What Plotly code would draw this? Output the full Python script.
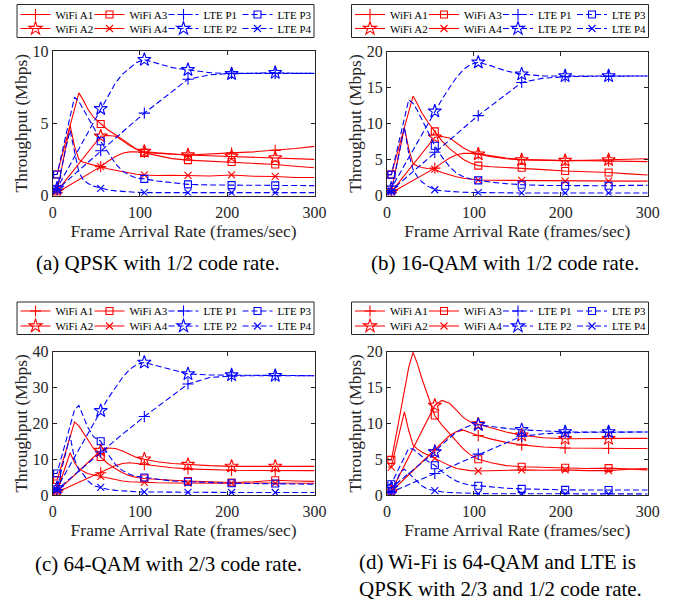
import plotly.graph_objects as go

W, H = 673, 601

# ---------------- data ----------------
X = [1, 5, 10, 15, 20, 25, 30, 35, 40, 47, 55, 63, 72, 80, 88, 96, 105, 120, 137, 155, 180, 205, 230, 255, 278, 300]
MARK_IDX = [1, 10, 16, 19, 21, 23]  # x = 5, 55, 105, 155, 205, 255

SERIES = ["WiFi A1", "WiFi A2", "WiFi A3", "WiFi A4", "LTE P1", "LTE P2", "LTE P3", "LTE P4"]
X_TICKS = [0, 100, 200, 300]

# (a) QPSK 1/2
a_wifi_a1 = [0.2, 0.2, 0.38, 0.56, 0.74, 0.92, 1.1, 1.28, 1.46, 1.71, 2.0, 2.35, 2.7, 2.92, 3.02, 3.02, 2.98, 2.9, 2.85, 2.8, 2.85, 2.95, 3.02, 3.12, 3.25, 3.4]
a_wifi_a2 = [0.3, 0.3, 0.68, 1.06, 1.44, 1.82, 2.2, 2.58, 2.96, 3.49, 4.1, 4.15, 4.1, 3.8, 3.45, 3.2, 3.05, 2.95, 2.88, 2.8, 2.75, 2.7, 2.65, 2.6, 2.55, 2.5]
a_wifi_a3 = [1.45, 1.45, 2.6, 3.7, 4.8, 5.95, 7.1, 6.6, 6.0, 5.4, 4.95, 4.55, 4.2, 3.85, 3.5, 3.2, 2.95, 2.75, 2.55, 2.45, 2.38, 2.32, 2.25, 2.15, 2.02, 1.92]
a_wifi_a4 = [0.3, 0.3, 1.8, 3.3, 4.85, 3.4, 2.5, 2.3, 2.2, 2.1, 2.0, 1.85, 1.75, 1.65, 1.55, 1.47, 1.42, 1.38, 1.4, 1.4, 1.35, 1.42, 1.33, 1.32, 1.25, 1.25]
a_lte_p1 = [0.4, 0.4, 0.67, 0.94, 1.21, 1.48, 1.75, 2.02, 2.29, 2.67, 3.1, 3.52, 3.98, 4.4, 4.82, 5.23, 5.7, 6.4, 7.2, 8.05, 8.35, 8.45, 8.45, 8.45, 8.45, 8.45]
a_lte_p2 = [0.5, 0.5, 1.05, 1.6, 2.15, 2.7, 3.25, 3.8, 4.35, 5.12, 6.0, 6.9, 7.8, 8.4, 8.8, 9.2, 9.4, 9.15, 8.85, 8.7, 8.5, 8.42, 8.45, 8.5, 8.45, 8.45]
a_lte_p3 = [1.45, 1.45, 2.8, 4.2, 5.5, 6.8, 6.5, 6.0, 5.5, 4.7, 3.75, 3.0, 2.2, 1.7, 1.4, 1.2, 1.15, 1.0, 0.88, 0.77, 0.73, 0.72, 0.7, 0.7, 0.68, 0.68]
a_lte_p4 = [0.5, 0.5, 1.8, 3.3, 4.5, 3.0, 1.6, 1.1, 0.85, 0.65, 0.5, 0.4, 0.32, 0.27, 0.24, 0.22, 0.2, 0.2, 0.2, 0.2, 0.2, 0.2, 0.2, 0.2, 0.2, 0.2]

# (b) 16-QAM 1/2
b_wifi_a1 = [0.4, 0.4, 0.74, 1.08, 1.42, 1.76, 2.1, 2.44, 2.78, 3.26, 3.8, 4.5, 5.2, 5.65, 5.85, 5.85, 5.8, 5.5, 5.2, 5.0, 4.9, 4.85, 4.85, 4.8, 4.75, 4.7]
b_wifi_a2 = [0.5, 0.5, 1.26, 2.02, 2.78, 3.54, 4.3, 5.06, 5.82, 6.88, 8.1, 8.2, 8.0, 7.3, 6.6, 6.1, 5.75, 5.4, 5.1, 4.95, 4.85, 4.85, 4.9, 4.95, 5.0, 5.1]
b_wifi_a3 = [2.9, 2.9, 5.1, 7.3, 9.5, 11.7, 13.8, 12.7, 11.5, 10.2, 8.9, 7.6, 6.5, 5.7, 5.0, 4.5, 4.15, 4.0, 3.9, 3.85, 3.6, 3.4, 3.3, 3.2, 3.0, 2.85]
b_wifi_a4 = [0.6, 0.6, 3.6, 6.6, 9.4, 6.5, 4.4, 4.1, 3.9, 3.75, 3.65, 3.2, 2.85, 2.6, 2.4, 2.25, 2.15, 2.12, 2.1, 2.1, 2.05, 2.0, 2.0, 2.0, 2.0, 2.0]
b_lte_p1 = [0.7, 0.7, 1.23, 1.76, 2.29, 2.82, 3.35, 3.88, 4.41, 5.15, 6.0, 6.8, 7.7, 8.55, 9.35, 10.2, 11.1, 12.5, 14.0, 15.7, 16.3, 16.5, 16.55, 16.55, 16.6, 16.6]
b_lte_p2 = [1.0, 1.0, 2.07, 3.14, 4.21, 5.28, 6.35, 7.42, 8.49, 9.99, 11.7, 13.3, 15.0, 16.4, 17.5, 18.2, 18.5, 18.0, 17.3, 16.85, 16.6, 16.6, 16.6, 16.6, 16.6, 16.6]
b_lte_p3 = [2.9, 2.9, 5.5, 8.1, 10.7, 13.3, 12.8, 11.8, 10.6, 8.9, 6.9, 5.4, 4.0, 3.1, 2.6, 2.3, 2.1, 1.85, 1.65, 1.5, 1.4, 1.35, 1.35, 1.35, 1.4, 1.4]
b_lte_p4 = [0.5, 0.5, 3.5, 6.5, 9.5, 5.8, 3.6, 2.6, 1.9, 1.3, 0.8, 0.65, 0.55, 0.5, 0.45, 0.42, 0.4, 0.38, 0.36, 0.35, 0.35, 0.35, 0.35, 0.35, 0.35, 0.35]

# (c) 64-QAM 2/3
c_wifi_a1 = [0.8, 0.8, 1.34, 1.88, 2.42, 2.96, 3.5, 4.04, 4.58, 5.34, 6.2, 7.2, 8.2, 8.8, 9.0, 8.8, 8.5, 8.0, 7.6, 7.3, 7.0, 6.9, 6.85, 6.8, 6.8, 6.8]
c_wifi_a2 = [1.0, 1.0, 2.14, 3.28, 4.42, 5.56, 6.7, 7.84, 8.98, 10.58, 12.4, 13.1, 13.0, 12.3, 11.3, 10.5, 10.0, 9.3, 8.8, 8.5, 8.2, 8.0, 8.0, 8.0, 8.0, 8.0]
c_wifi_a3 = [4.2, 4.2, 8.1, 12.1, 16.2, 20.4, 19.3, 17.5, 15.5, 12.9, 10.6, 8.8, 7.3, 6.2, 5.4, 4.9, 4.6, 4.3, 4.1, 3.9, 3.7, 3.5, 3.7, 4.1, 3.9, 3.8]
c_wifi_a4 = [1.0, 1.0, 4.6, 8.2, 11.8, 9.0, 7.4, 6.6, 6.0, 5.6, 5.2, 4.7, 4.2, 3.9, 3.7, 3.6, 3.5, 3.4, 3.35, 3.3, 3.3, 3.3, 3.35, 3.3, 3.3, 3.3]
c_lte_p1 = [1.5, 1.5, 2.55, 3.6, 4.65, 5.7, 6.75, 7.8, 8.85, 10.3, 12.0, 13.6, 15.4, 17.0, 18.5, 20.1, 21.9, 24.6, 27.7, 31.0, 32.8, 33.2, 33.3, 33.3, 33.3, 33.3]
c_lte_p2 = [2.0, 2.0, 4.15, 6.3, 8.45, 10.6, 12.75, 14.9, 17.05, 20.1, 23.5, 26.8, 30.0, 32.8, 35.0, 36.4, 37.0, 36.0, 34.8, 33.8, 33.5, 33.5, 33.4, 33.3, 33.3, 33.3]
c_lte_p3 = [6.0, 6.0, 10.5, 15.0, 19.8, 23.8, 25.0, 22.0, 19.0, 16.2, 15.0, 11.5, 8.5, 6.8, 5.8, 5.2, 4.9, 4.3, 3.9, 3.7, 3.4, 3.3, 3.2, 3.2, 3.1, 3.0]
c_lte_p4 = [1.5, 1.5, 7.0, 12.0, 16.5, 10.0, 7.0, 5.8, 4.0, 2.6, 2.1, 1.6, 1.3, 1.1, 1.0, 0.9, 0.85, 0.8, 0.75, 0.75, 0.7, 0.7, 0.7, 0.7, 0.7, 0.7]

# (d) Wi-Fi 64-QAM / LTE QPSK
d_wifi_a1 = [0.5, 0.5, 1.08, 1.66, 2.24, 2.82, 3.4, 3.98, 4.56, 5.37, 6.3, 7.3, 8.3, 8.85, 9.05, 8.7, 8.3, 7.8, 7.35, 7.0, 6.7, 6.55, 6.5, 6.5, 6.5, 6.5]
d_wifi_a2 = [0.5, 0.5, 1.7, 2.9, 4.1, 5.3, 6.5, 7.7, 8.9, 10.58, 12.5, 13.2, 12.8, 11.8, 10.8, 10.2, 9.9, 9.3, 8.8, 8.35, 8.0, 7.85, 7.9, 7.85, 7.9, 7.9]
d_wifi_a3 = [4.9, 4.9, 8.0, 11.1, 14.2, 17.8, 19.9, 18.3, 16.3, 13.8, 11.1, 9.8, 8.6, 7.4, 6.4, 5.6, 5.0, 4.5, 4.1, 3.95, 3.85, 3.8, 3.7, 3.75, 3.6, 3.5]
d_wifi_a4 = [3.9, 3.9, 6.5, 9.2, 11.6, 9.0, 7.0, 6.4, 6.0, 5.6, 5.1, 4.6, 4.1, 3.7, 3.5, 3.4, 3.35, 3.4, 3.45, 3.5, 3.45, 3.5, 3.4, 3.4, 3.6, 3.7]
d_lte_p1 = [0.4, 0.4, 0.66, 0.92, 1.18, 1.44, 1.7, 1.96, 2.22, 2.58, 3.0, 3.43, 3.92, 4.35, 4.78, 5.21, 5.7, 6.45, 7.3, 8.2, 8.55, 8.7, 8.75, 8.75, 8.8, 8.8]
d_lte_p2 = [1.0, 1.0, 1.5, 2.0, 2.5, 3.0, 3.5, 4.0, 4.5, 5.2, 6.0, 7.0, 8.0, 8.8, 9.35, 9.7, 9.8, 9.55, 9.3, 9.1, 8.9, 8.8, 8.8, 8.8, 8.8, 8.8]
d_lte_p3 = [1.5, 1.5, 2.8, 4.1, 5.4, 6.5, 6.4, 5.9, 5.3, 4.7, 4.15, 3.3, 2.5, 1.95, 1.6, 1.35, 1.3, 1.1, 0.95, 0.85, 0.75, 0.72, 0.7, 0.7, 0.7, 0.7]
d_lte_p4 = [0.4, 0.4, 1.5, 3.2, 3.6, 3.0, 2.5, 1.9, 1.3, 0.8, 0.6, 0.45, 0.35, 0.3, 0.25, 0.22, 0.2, 0.18, 0.17, 0.15, 0.15, 0.15, 0.15, 0.15, 0.15, 0.15]

CAPTIONS = [
    "(a) QPSK with 1/2 code rate.",
    "(b) 16-QAM with 1/2 code rate.",
    "(c) 64-QAM with 2/3 code rate.",
    "(d) Wi-Fi is 64-QAM and LTE is<br>QPSK with 2/3 and 1/2 code rate.",
]

# ---------------- styling ----------------
FONT = "Liberation Serif"
AXC = "#262626"
RED, BLUE = "#FF0000", "#0000FF"
SYMBOLS = ["cross-thin-open", "star-open", "square-open", "x-thin-open"] * 2
MSIZE = [8, 10, 7, 7] * 2
LEG_ROW1 = [0, 2, 4, 6]  # A1, A3, P1, P3
LEG_ROW2 = [1, 3, 5, 7]  # A2, A4, P2, P4


def px_x(p):
    return p / W


def px_y(p):
    return 1 - p / H


panels = [
    dict(ax="", data=[a_wifi_a1, a_wifi_a2, a_wifi_a3, a_wifi_a4, a_lte_p1, a_lte_p2, a_lte_p3, a_lte_p4],
         ymax=10, dtick=5, xd=(52.7, 314.5), yd=(195.5, 51.0), leg=("legend", "legend2"),
         box=(17.0, 314.0, 4.5, 37.5), rows=(None, 28.5), lx=15.5),
    dict(ax="2", data=[b_wifi_a1, b_wifi_a2, b_wifi_a3, b_wifi_a4, b_lte_p1, b_lte_p2, b_lte_p3, b_lte_p4],
         ymax=20, dtick=5, xd=(387.0, 647.7), yd=(195.5, 51.5), leg=("legend3", "legend4"),
         box=(351.5, 648.5, 4.5, 37.5), rows=(None, 28.5), lx=350.0),
    dict(ax="3", data=[c_wifi_a1, c_wifi_a2, c_wifi_a3, c_wifi_a4, c_lte_p1, c_lte_p2, c_lte_p3, c_lte_p4],
         ymax=40, dtick=10, xd=(52.7, 314.5), yd=(495.0, 351.7), leg=("legend5", "legend6"),
         box=(17.0, 314.0, 302.0, 334.5), rows=(311.0, 326.0), lx=15.5),
    dict(ax="4", data=[d_wifi_a1, d_wifi_a2, d_wifi_a3, d_wifi_a4, d_lte_p1, d_lte_p2, d_lte_p3, d_lte_p4],
         ymax=20, dtick=5, xd=(387.0, 647.7), yd=(495.0, 351.7), leg=("legend7", "legend8"),
         box=(351.5, 648.5, 302.0, 334.5), rows=(311.0, 326.0), lx=350.0),
]

fig = go.Figure()
layout = dict(
    template="none",
    width=W, height=H, margin=dict(l=0, r=0, t=0, b=0, autoexpand=False),
    paper_bgcolor="white", plot_bgcolor="white",
    font=dict(family=FONT, color="black"),
    shapes=[], annotations=[],
)

for p in panels:
    xa, ya = "x" + p["ax"], "y" + p["ax"]
    for i, name in enumerate(SERIES):
        ys = p["data"][i]
        color = RED if i < 4 else BLUE
        dash = "solid" if i < 4 else "6px,3px"
        fig.add_trace(go.Scatter(
            x=X, y=ys, mode="lines", xaxis=xa, yaxis=ya, showlegend=False,
            line=dict(color=color, width=1.1, dash=dash), hoverinfo="skip"))
        fig.add_trace(go.Scatter(
            x=[X[k] for k in MARK_IDX], y=[ys[k] for k in MARK_IDX], mode="markers",
            xaxis=xa, yaxis=ya, showlegend=False, name=name,
            marker=dict(symbol=SYMBOLS[i], size=MSIZE[i], color=color,
                        line=dict(color=color, width=1.1))))
    # legend entries (two rows per panel)
    for leg, idxs in zip(p["leg"], (LEG_ROW1, LEG_ROW2)):
        for j, i in enumerate(idxs):
            color = RED if i < 4 else BLUE
            dash = "solid" if i < 4 else "6px,3px"
            fig.add_trace(go.Scatter(
                x=[None], y=[None], mode="lines+markers", name=SERIES[i], legend=leg,
                xaxis=xa, yaxis=ya, showlegend=True,
                legendwidth=(40 if j == 3 else 29),
                line=dict(color=color, width=1.1, dash=dash),
                marker=dict(symbol=SYMBOLS[i], size=MSIZE[i], color=color,
                            line=dict(color=color, width=1.1))))
    for leg, ry in zip(p["leg"], p["rows"]):
        if ry is None:
            yy, yanc = 1.0, "top"
        else:
            yy, yanc = px_y(ry), "middle"
        layout[leg] = dict(
            orientation="h", x=px_x(p["lx"]), y=yy, xanchor="left", yanchor=yanc,
            entrywidth=29, entrywidthmode="pixels", bgcolor="rgba(0,0,0,0)", borderwidth=0,
            font=dict(family=FONT, size=11, color="black"), itemclick=False, itemdoubleclick=False,
            tracegroupgap=0)
    x0, x1, y0, y1 = p["box"]
    layout["shapes"].append(dict(type="rect", xref="paper", yref="paper",
                                 x0=px_x(x0), x1=px_x(x1), y0=px_y(y1), y1=px_y(y0),
                                 line=dict(color=AXC, width=1), fillcolor="rgba(0,0,0,0)"))
    layout["xaxis" + p["ax"]] = dict(
        domain=[px_x(p["xd"][0]), px_x(p["xd"][1])], anchor=ya, range=[0, 300], automargin=False,
        tickvals=X_TICKS, ticks="inside", ticklen=4, tickcolor=AXC, showline=True,
        linecolor=AXC, linewidth=1, mirror="ticks", showgrid=False, zeroline=False,
        tickfont=dict(family=FONT, size=16, color=AXC), ticklabelstandoff=2,
        title=dict(text="Frame Arrival Rate (frames/sec)", font=dict(family=FONT, size=17.5, color=AXC), standoff=4))
    layout["yaxis" + p["ax"]] = dict(
        domain=[px_y(p["yd"][0]), px_y(p["yd"][1])], anchor=xa, range=[0, p["ymax"]], automargin=False,
        dtick=p["dtick"], tick0=0, ticks="inside", ticklen=4, tickcolor=AXC, showline=True,
        linecolor=AXC, linewidth=1, mirror="ticks", showgrid=False, zeroline=False,
        tickfont=dict(family=FONT, size=16, color=AXC), ticklabelstandoff=0,
        title=dict(text="Throughput (Mbps)", font=dict(family=FONT, size=17.5, color=AXC), standoff=0))

cap_pos = [(158, 263, "center"), (505, 263, "center"), (168, 564, "center"), (357, 575, "left")]
for txt, (cx, cy, anc) in zip(CAPTIONS, cap_pos):
    layout["annotations"].append(dict(
        text=txt, xref="paper", yref="paper", x=px_x(cx), y=px_y(cy), xanchor=anc, yanchor="middle",
        align="left", showarrow=False, font=dict(family=FONT, size=21, color="black")))

fig.update_layout(**layout)
# remove the browser's default 8px body margin so the 673x601 figure fills the window
fig.write_html("out.html", config={"displayModeBar": False},
               post_script="document.body.style.margin='0';document.body.style.overflow='hidden';")
